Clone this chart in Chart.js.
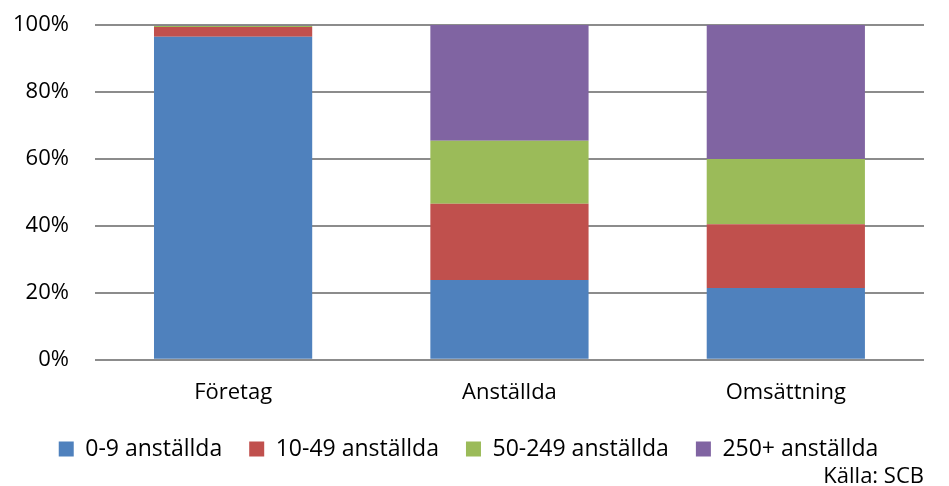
<!DOCTYPE html>
<html>
<head>
<meta charset="utf-8">
<script src="https://cdn.jsdelivr.net/npm/chart.js@4"></script>
<style>
  html, body { margin: 0; padding: 0; background: #fff; }
  #wrap { width: 949px; height: 486px; position: relative; }
</style>
</head>
<body>
<div id="wrap"><canvas id="c"></canvas></div>
<script>
// Andel per storleksklass (procent)
const categories = ['Företag', 'Anställda', 'Omsättning'];
const seriesNames = ['0-9 anställda', '10-49 anställda', '50-249 anställda', '250+ anställda'];
const small = [96.5, 23.8, 21.4];      // 0-9 anställda
const medium = [2.9, 22.8, 19.1];      // 10-49 anställda
const large = [0.4, 18.8, 19.5];       // 50-249 anställda
const xlarge = [0.2, 34.6, 40.0];      // 250+ anställda
const yTicks = [0, 20, 40, 60, 80, 100];
const sourceText = 'Källa: SCB';

const colors = ['#4F81BD', '#C0504D', '#9BBB59', '#8064A2'];
const values = [small, medium, large, xlarge];

const FONT = '"Open Sans", "Liberation Sans", sans-serif';

new Chart(document.getElementById('c'), {
  type: 'bar',
  data: {
    labels: categories,
    datasets: values.map((v, i) => ({
      label: seriesNames[i],
      data: v,
      backgroundColor: colors[i],
      borderWidth: 0,
      barPercentage: 0.5725,
      categoryPercentage: 1
    }))
  },
  options: {
    responsive: true,
    maintainAspectRatio: false,
    animation: false,
    layout: { padding: { left: 13, right: 25, top: 25, bottom: 0 } },
    plugins: {
      tooltip: { enabled: false },
      legend: {
        position: 'bottom',
        align: 'center',
        labels: {
          font: { family: FONT, size: 23 },
          color: '#000',
          boxWidth: 15,
          boxHeight: 15,
          padding: 27
        }
      },
      subtitle: {
        display: true,
        text: sourceText,
        position: 'bottom',
        align: 'end',
        font: { family: FONT, size: 22 },
        color: '#000',
        padding: { top: -7, bottom: -4 }
      }
    },
    scales: {
      x: {
        stacked: true,
        grid: { display: false, drawTicks: false },
        border: { display: false },
        ticks: { font: { family: FONT, size: 22 }, color: '#000', padding: 20 },
        afterFit: (axis) => { axis.height -= 15.5; }
      },
      y: {
        stacked: true,
        min: 0,
        max: 100,
        afterBuildTicks: (axis) => { axis.ticks = yTicks.map(v => ({ value: v })); },
        grid: {
          color: '#8C8C8C',
          lineWidth: 2,
          drawTicks: true,
          tickLength: 26,
          tickColor: 'rgba(0,0,0,0)'
        },
        border: { display: false },
        ticks: {
          font: { family: FONT, size: 22 },
          color: '#000',
          padding: 0,
          callback: (v) => v + '%'
        }
      }
    }
  }
});
</script>
</body>
</html>
